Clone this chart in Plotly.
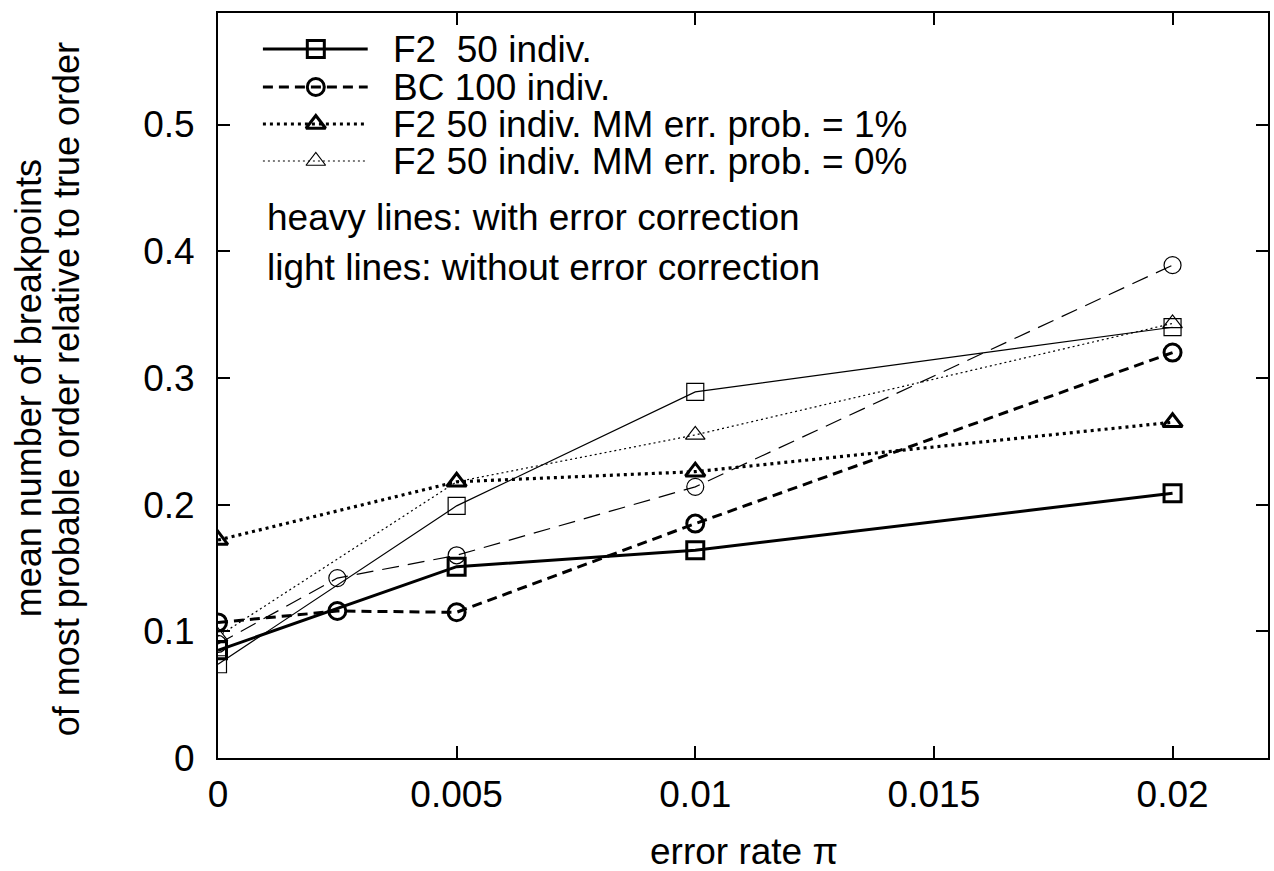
import plotly.graph_objects as go

# ---------------- data ----------------
x_f2_heavy = [0, 0.005, 0.01, 0.02]
y_f2_heavy = [0.085, 0.151, 0.164, 0.209]

x_bc_heavy = [0, 0.0025, 0.005, 0.01, 0.02]
y_bc_heavy = [0.107, 0.116, 0.115, 0.185, 0.320]

x_mm1_heavy = [0, 0.005, 0.01, 0.02]
y_mm1_heavy = [0.172, 0.218, 0.226, 0.265]

x_f2_light = [0, 0.005, 0.01, 0.02]
y_f2_light = [0.074, 0.199, 0.289, 0.340]

x_bc_light = [0, 0.0025, 0.005, 0.01, 0.02]
y_bc_light = [0.090, 0.142, 0.160, 0.214, 0.389]

x_mm0_light = [0, 0.005, 0.01, 0.02]
y_mm0_light = [0.096, 0.218, 0.255, 0.343]

legend_labels = ["F2  50 indiv.", "BC 100 indiv.",
                 "F2 50 indiv. MM err. prob. = 1%",
                 "F2 50 indiv. MM err. prob. = 0%"]
note_labels = ["heavy lines: with error correction",
               "light lines: without error correction"]

x_ticks = [0, 0.005, 0.01, 0.015, 0.02]
x_ticktext = ["0", "0.005", "0.01", "0.015", "0.02"]
y_ticks = [0, 0.1, 0.2, 0.3, 0.4, 0.5]
y_ticktext = ["0", "0.1", "0.2", "0.3", "0.4", "0.5"]

FONT = "Liberation Sans, Arial, Helvetica, sans-serif"
FS = 37
FS_Y = 36

# ---------------- styles ----------------
styles = {
    "f2_heavy": dict(dash="solid", width=3, symbol="square-open", mw=3),
    "bc_heavy": dict(dash="10px,6px", width=3, symbol="circle-open", mw=3),
    "mm1_heavy": dict(dash="3px,4px", width=3.2, symbol="triangle-up-open", mw=3),
    "f2_light": dict(dash="solid", width=1.2, symbol="square-open", mw=1.2),
    "bc_light": dict(dash="17px,9px", width=1.2, symbol="circle-open", mw=1.2),
    "mm0_light": dict(dash="2px,3px", width=1.2, symbol="triangle-up-open", mw=1.2),
}

fig = go.Figure()

def add_series(x, y, st, size=17):
    fig.add_trace(go.Scatter(
        x=x, y=y, mode="lines+markers", showlegend=False,
        line=dict(color="black", width=st["width"], dash=st["dash"]),
        marker=dict(symbol=st["symbol"], size=size, color="black",
                    line=dict(color="black", width=st["mw"])),
        hoverinfo="skip"))

add_series(x_f2_light, y_f2_light, styles["f2_light"])
add_series(x_bc_light, y_bc_light, styles["bc_light"])
add_series(x_mm0_light, y_mm0_light, styles["mm0_light"])
add_series(x_f2_heavy, y_f2_heavy, styles["f2_heavy"])
add_series(x_bc_heavy, y_bc_heavy, styles["bc_heavy"])
add_series(x_mm1_heavy, y_mm1_heavy, styles["mm1_heavy"])

# ---------------- manual key (on an overlay 0..1 axis pair) ----------------
W, H = 1274, 871
L, R, T, B = 218, 4, 13, 113
pw, ph = W - L - R, H - T - B

def px2x(px):
    return (px - L) / pw

def py2y(py):
    return (H - B - py) / ph

key_rows_py = [49, 87, 124, 161]
key_styles = [styles["f2_heavy"], styles["bc_heavy"], styles["mm1_heavy"], styles["mm0_light"]]
x0, x1, xm, xt = px2x(263), px2x(368), px2x(316), px2x(391)
for lab, st, py in zip(legend_labels, key_styles, key_rows_py):
    yy = py2y(py)
    fig.add_trace(go.Scatter(
        x=[x0, x1], y=[yy, yy], mode="lines", showlegend=False,
        xaxis="x2", yaxis="y2", hoverinfo="skip",
        line=dict(color="black", width=st["width"], dash=st["dash"])))
    fig.add_trace(go.Scatter(
        x=[xm], y=[yy], mode="markers", showlegend=False,
        xaxis="x2", yaxis="y2", hoverinfo="skip",
        marker=dict(symbol=st["symbol"], size=17, color="black",
                    line=dict(color="black", width=st["mw"]))))
    fig.add_annotation(x=xt, y=yy, xref="x2", yref="y2", text=lab,
                       showarrow=False, xanchor="left", yanchor="middle",
                       font=dict(family=FONT, size=FS, color="black"))

for lab, py in zip(note_labels, [217, 267]):
    fig.add_annotation(x=px2x(265), y=py2y(py), xref="x2", yref="y2", text=lab,
                       showarrow=False, xanchor="left", yanchor="middle",
                       font=dict(family=FONT, size=FS, color="black"))

# axis titles
fig.add_annotation(x=px2x(28), y=py2y(388), xref="paper", yref="paper",
                   text="mean number of breakpoints", textangle=-90,
                   showarrow=False, xanchor="center", yanchor="middle",
                   font=dict(family=FONT, size=FS_Y, color="black"))
fig.add_annotation(x=px2x(66), y=py2y(389), xref="paper", yref="paper",
                   text="of most probable order relative to true order", textangle=-90,
                   showarrow=False, xanchor="center", yanchor="middle",
                   font=dict(family=FONT, size=FS_Y, color="black"))
fig.add_annotation(x=px2x(745), y=py2y(851), xref="paper", yref="paper",
                   text="error rate π", showarrow=False,
                   xanchor="center", yanchor="middle",
                   font=dict(family=FONT, size=FS, color="black"))

axis_common = dict(showgrid=False, zeroline=False, showline=True, mirror="allticks",
                   linecolor="black", linewidth=2, ticks="inside", ticklen=12,
                   tickwidth=2, tickcolor="black",
                   tickfont=dict(family=FONT, size=FS, color="black"))

fig.update_layout(
    width=W, height=H,
    margin=dict(l=L, r=R, t=T, b=B, pad=0),
    plot_bgcolor="white", paper_bgcolor="white",
    xaxis=dict(range=[0, 0.022], tickvals=x_ticks, ticktext=x_ticktext,
               ticklabelstandoff=3, **axis_common),
    yaxis=dict(range=[0, 0.588], tickvals=y_ticks, ticktext=y_ticktext,
               ticklabelstandoff=14, **axis_common),
    xaxis2=dict(range=[0, 1], overlaying="x", visible=False),
    yaxis2=dict(range=[0, 1], overlaying="y", visible=False),
    showlegend=False,
)

fig.write_html("out.html")
